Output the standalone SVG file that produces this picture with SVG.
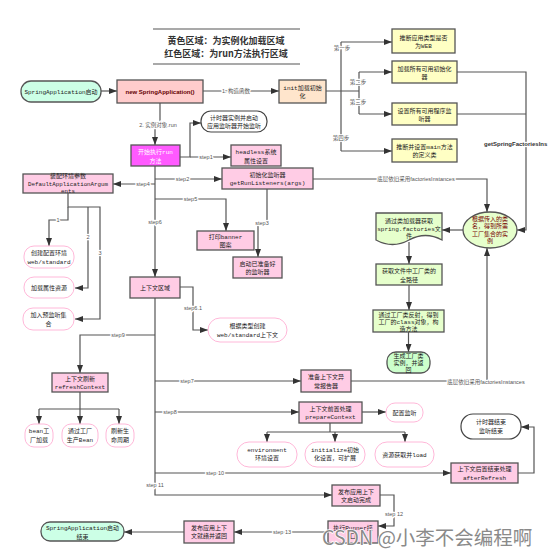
<svg xmlns="http://www.w3.org/2000/svg" width="548" height="557" viewBox="0 0 548 557">
<style>
.bx{stroke:#555;stroke-width:1.3}
.pk{fill:#ffcce5}
.yl{fill:#ffffc4}
.gr{fill:#e6ffcc}
.pl{fill:#fff;stroke:#ffb8d9;stroke-width:1}
.wp{fill:#fff;stroke:#444;stroke-width:1.2}
.t{font-family:"Liberation Mono","Noto Sans CJK SC",monospace;font-size:6px;fill:#222;text-anchor:middle}
.lb{font-family:"Liberation Sans","Noto Sans CJK SC",sans-serif;font-size:5.5px;fill:#555;text-anchor:middle;stroke:#fff;stroke-width:2.5px;paint-order:stroke;stroke-linejoin:round}
.ln{fill:none;stroke:#555;stroke-width:1.2}
.ar{marker-end:url(#ah)}
.ttl{font-family:"Noto Sans CJK SC","Liberation Mono",sans-serif;font-size:9px;font-weight:bold;fill:#333;text-anchor:middle}
</style>
<defs>
<marker id="ah" markerUnits="userSpaceOnUse" markerWidth="8" markerHeight="6" refX="8" refY="3" orient="auto">
<path d="M0,0 L8,3 L0,6 z" fill="#333"/>
</marker>
</defs>
<rect width="548" height="557" fill="#fff"/>

<g id="title">
<line x1="153" y1="29" x2="300" y2="29" stroke="#555" stroke-width="1.2"/>
<line x1="153" y1="64" x2="300" y2="64" stroke="#555" stroke-width="1.2"/>
<text class="ttl" x="226" y="44">黄色区域：为实例化加载区域</text>
<text class="ttl" x="226" y="56.5">红色区域：为run方法执行区域</text>
</g>

<g id="connectors">
<path class="ln ar" d="M101,91 H117"/>
<path class="ln ar" d="M203,91 H279"/>
<path class="ln" d="M326,91 H359"/>
<path class="ln" d="M341,42 V151"/>
<path class="ln ar" d="M341,42 H392"/>
<path class="ln ar" d="M341,151 H392"/>
<path class="ln" d="M359,72 V114"/>
<path class="ln ar" d="M359,72 H392"/>
<path class="ln ar" d="M359,114 H392"/>
<path class="ln ar" d="M457,72 H526 V230 H517"/>
<path class="ln" d="M457,114 H526"/>
<path class="ln ar" d="M313,179 H487 V212"/>
<path class="ln ar" d="M351,381 H487 V248"/>
<path class="ln ar" d="M463,230 H442"/>
<path class="ln ar" d="M409,242 V264"/>
<path class="ln ar" d="M409,285 V310"/>
<path class="ln ar" d="M408.5,332 V352"/>

<path class="ln ar" d="M160,103 V126 H155 V145"/>
<path class="ln ar" d="M180,157 H190 V123 H201"/>
<path class="ln ar" d="M190,157 H231"/>
<path class="ln ar" d="M155,166 V277"/>
<path class="ln ar" d="M155,179 H222"/>
<path class="ln ar" d="M155,184 H113"/>
<path class="ln ar" d="M155,199 H226 V231"/>
<path class="ln ar" d="M267,189 V222 H258 V257"/>
<path class="ln ar" d="M180,287 H193 V330 H208"/>
<path class="ln ar" d="M68,193 V207 H100 V319 H75"/>
<path class="ln ar" d="M68,207 V220 H49 V246"/>
<path class="ln ar" d="M88,207 V288 H75"/>
<path class="ln ar" d="M155,298 V495 H332"/>
<path class="ln ar" d="M155,335 H80 V373"/>
<path class="ln ar" d="M80,392 V424"/>
<path class="ln" d="M39,409 H119"/>
<path class="ln ar" d="M39,409 V424"/>
<path class="ln ar" d="M119,409 V424"/>
<path class="ln ar" d="M155,381 H301"/>
<path class="ln ar" d="M155,412 H299"/>
<path class="ln ar" d="M362,412 H386"/>
<path class="ln" d="M330,423 V432 M267,432 H405"/>
<path class="ln ar" d="M267,432 V442"/>
<path class="ln ar" d="M335,432 V442"/>
<path class="ln ar" d="M405,432 V442"/>
<path class="ln ar" d="M155,473 H451"/>
<path class="ln ar" d="M518,473 H534 V427 H521"/>
<path class="ln ar" d="M380,495 H394 V526 H378"/>
<path class="ln ar" d="M328,532 H234"/>
<path class="ln ar" d="M184,532 H124"/>

<text class="lb" x="236" y="93">1. 构造函数</text>
<text class="lb" x="342" y="50">第一步</text>
<text class="lb" x="358" y="84">第二步</text>
<text class="lb" x="358" y="104">第三步</text>
<text class="lb" x="341" y="140">第四步</text>
<text class="lb" x="484" y="146" style="text-anchor:start;font-weight:bold;font-size:6px;fill:#333">getSpringFactoriesIns</text>
<text class="lb" x="416" y="181">底层依旧采用factoriesInstances</text>
<text class="lb" x="486" y="383.5">底层依旧采用factoriesInstances</text>
<text class="lb" x="158" y="127">2. 实例对象.run</text>
<text class="lb" x="206" y="159">step1</text>
<text class="lb" x="182.5" y="181">step2</text>
<text class="lb" x="143" y="186">step4</text>
<text class="lb" x="190.5" y="201">step5</text>
<text class="lb" x="262" y="225">step3</text>
<text class="lb" x="155" y="224">step6</text>
<text class="lb" x="193" y="310">step6.1</text>
<text class="lb" x="58" y="222">1</text>
<text class="lb" x="88" y="239">2</text>
<text class="lb" x="100" y="255">3</text>
<text class="lb" x="118" y="337">step9</text>
<text class="lb" x="187" y="383">step7</text>
<text class="lb" x="170" y="414">step8</text>
<text class="lb" x="215" y="475">step 10</text>
<text class="lb" x="155" y="487">step 11</text>
<text class="lb" x="394" y="516">step 12</text>
<text class="lb" x="282" y="534">step 13</text>
</g>

<g id="n-start"><rect class="bx" x="21" y="81" width="80" height="21" rx="10" fill="#ccffe6"/><text class="t" x="61" y="94">SpringApplication启动</text></g>
<g id="n-new"><rect class="bx" x="117" y="80" width="86" height="23" fill="#ffcccc"/><text x="160" y="93.5" style="font-family:'Liberation Sans',sans-serif;font-size:6px;font-weight:bold;fill:#600;text-anchor:middle">new SpringApplication()</text></g>
<g id="n-init"><rect class="bx" x="279" y="80" width="47" height="23" fill="#ffe5cc"/><text class="t" x="302.5" y="89.5">init加载初始</text><text class="t" x="302.5" y="98">化</text></g>

<g id="n-web"><rect class="bx yl" x="392" y="29" width="63" height="24"/><text class="t" x="423.5" y="39.5">推断应用类型是否</text><text class="t" x="423.5" y="48">为WEB</text></g>
<g id="n-initializers"><rect class="bx yl" x="392" y="61" width="65" height="22"/><text class="t" x="424.5" y="70.5">加载所有可用初始化</text><text class="t" x="424.5" y="79">器</text></g>
<g id="n-listeners"><rect class="bx yl" x="392" y="103" width="65" height="22"/><text class="t" x="424.5" y="112.5">设置所有可用程序监</text><text class="t" x="424.5" y="121">听器</text></g>
<g id="n-main"><rect class="bx yl" x="392" y="139" width="65" height="23"/><text class="t" x="424.5" y="148.5">推断并设置main方法</text><text class="t" x="424.5" y="157">的定义类</text></g>

<g id="n-ellipse"><ellipse class="bx gr" cx="490" cy="230" rx="27" ry="18"/>
<text class="t" x="490" y="220.5" style="fill:#700">根据传入的类</text>
<text class="t" x="490" y="228" style="fill:#700">名，得到所需</text>
<text class="t" x="490" y="235.5" style="fill:#700">工厂集合的实</text>
<text class="t" x="490" y="243" style="fill:#700">例</text></g>
<g id="n-doc"><path class="bx gr" d="M376,213 H442 V240 C431,234 420,234 409,240 C398,246 387,246 376,240 Z"/><text class="t" x="409" y="223">通过类加载器获取</text><text class="t" x="409" y="230.5">spring.factories文</text><text class="t" x="409" y="238">件</text></g>
<g id="n-path"><rect class="bx gr" x="376" y="264" width="66" height="21"/><text class="t" x="409" y="273">获取文件中工厂类的</text><text class="t" x="409" y="281.5">全路径</text></g>
<g id="n-reflect"><rect class="bx gr" x="373" y="310" width="71" height="22"/><text class="t" x="408.5" y="316.5">通过工厂类反射，得到</text><text class="t" x="408.5" y="323.5">工厂的class对象，构</text><text class="t" x="408.5" y="330.5">造方法</text></g>
<g id="n-instance"><rect class="bx" x="387" y="352" width="43" height="21" rx="9" fill="#ccffcc"/><text class="t" x="408.5" y="358">生成工厂类</text><text class="t" x="408.5" y="365">实例，并返</text><text class="t" x="408.5" y="372">回</text></g>

<g id="n-run"><rect class="bx" x="131" y="145" width="49" height="21" fill="#ff5aff"/><text class="t" x="155.5" y="154" style="fill:#fff">开始执行run</text><text class="t" x="155.5" y="162.5" style="fill:#fff">方法</text></g>
<g id="n-timer"><rect class="wp" x="201" y="111" width="66" height="21" rx="10"/><text class="t" x="234" y="120">计时器实例并启动</text><text class="t" x="234" y="128">应用监听器开始监听</text></g>
<g id="n-headless"><rect class="bx pk" x="231" y="145" width="50" height="21"/><text class="t" x="256" y="154">headless系统</text><text class="t" x="256" y="162.5">属性设置</text></g>
<g id="n-getrun"><rect class="bx pk" x="222" y="168" width="91" height="21"/><text class="t" x="267.5" y="176.5">初始化监听器</text><text class="t" x="267.5" y="185">getRunListeners(args)</text></g>
<g id="n-args"><rect class="bx pk" x="23" y="174" width="90" height="19"/><text class="t" x="68" y="178">装配环境参数</text><text class="t" x="68" y="185.5" style="font-size:5.8px">DefaultApplicationArgum</text><text class="t" x="68" y="192.5" style="font-size:5.8px">ents</text></g>
<g id="n-banner"><rect class="bx pk" x="197" y="231" width="57" height="19"/><text class="t" x="225.5" y="239">打印banner</text><text class="t" x="225.5" y="247">图案</text></g>
<g id="n-startlisteners"><rect class="bx pk" x="233" y="257" width="49" height="21"/><text class="t" x="257.5" y="265.5">启动已准备好</text><text class="t" x="257.5" y="274">的监听器</text></g>
<g id="n-env1"><rect class="pl" x="24" y="246" width="50" height="22" rx="10"/><text class="t" x="49" y="255">创建配置环境</text><text class="t" x="49" y="263.5">web/standard</text></g>
<g id="n-env2"><rect class="pl" x="24" y="277" width="50" height="21" rx="10"/><text class="t" x="49" y="290">加载属性资源</text></g>
<g id="n-env3"><rect class="pl" x="23" y="308" width="51" height="22" rx="10"/><text class="t" x="48.5" y="317">加入预监听集</text><text class="t" x="48.5" y="326">合</text></g>
<g id="n-context"><rect class="bx pk" x="130" y="277" width="50" height="21"/><text class="t" x="155" y="290">上下文区域</text></g>
<g id="n-create"><rect class="pl" x="208" y="318" width="79" height="24" rx="12"/><text class="t" x="247.5" y="328">根据类型创建</text><text class="t" x="247.5" y="336.5">web/standard上下文</text></g>
<g id="n-refresh"><rect class="bx pk" x="52" y="373" width="56" height="19"/><text class="t" x="80" y="381">上下文刷新</text><text class="t" x="80" y="389">refreshContext</text></g>
<g id="n-bean"><rect class="pl" x="25" y="424" width="28" height="23" rx="9"/><text class="t" x="39" y="433">bean工</text><text class="t" x="39" y="441.5">厂加载</text></g>
<g id="n-produce"><rect class="pl" x="62" y="424" width="36" height="23" rx="9"/><text class="t" x="80" y="433">通过工厂</text><text class="t" x="80" y="441.5">生产Bean</text></g>
<g id="n-lifecycle"><rect class="pl" x="106" y="424" width="28" height="23" rx="9"/><text class="t" x="120" y="433">刷新生</text><text class="t" x="120" y="441.5">命周期</text></g>
<g id="n-reporter"><rect class="bx pk" x="301" y="370" width="50" height="22"/><text class="t" x="326" y="379">准备上下文异</text><text class="t" x="326" y="387.5">常报告器</text></g>
<g id="n-prepare"><rect class="bx pk" x="299" y="402" width="63" height="21"/><text class="t" x="330.5" y="410.5">上下文前置处理</text><text class="t" x="330.5" y="419">prepareContext</text></g>
<g id="n-cfglisten"><rect class="pl" x="386" y="403" width="37" height="19" rx="9"/><text class="t" x="404.5" y="415">配置监听</text></g>
<g id="n-environment"><rect class="pl" x="237" y="442" width="60" height="25" rx="12"/><text class="t" x="267" y="451.5">environment</text><text class="t" x="267" y="460">环境设置</text></g>
<g id="n-initialize"><rect class="pl" x="305" y="442" width="60" height="25" rx="12"/><text class="t" x="335" y="451.5">initialize初始</text><text class="t" x="335" y="460">化设置，可扩展</text></g>
<g id="n-load"><rect class="pl" x="375" y="442" width="59" height="25" rx="12"/><text class="t" x="404.5" y="457">资源获取并load</text></g>
<g id="n-after"><rect class="bx pk" x="451" y="463" width="67" height="20"/><text class="t" x="484.5" y="471">上下文后置结束处理</text><text class="t" x="484.5" y="479.5">afterRefresh</text></g>
<g id="n-timerend"><rect class="wp" x="461" y="414" width="60" height="25" rx="12"/><text class="t" x="491" y="424">计时器结束</text><text class="t" x="491" y="432.5">监听结束</text></g>
<g id="n-started"><rect class="bx pk" x="332" y="485" width="48" height="21"/><text class="t" x="356" y="493.5">发布应用上下</text><text class="t" x="356" y="502">文启动完成</text></g>
<g id="n-runner"><rect class="bx pk" x="328" y="521" width="50" height="22"/><text class="t" x="353" y="529.5">执行Runner接</text><text class="t" x="353" y="538">口</text></g>
<g id="n-ready"><rect class="bx pk" x="184" y="521" width="50" height="22"/><text class="t" x="209" y="529.5">发布应用上下</text><text class="t" x="209" y="538">文就绪并返回</text></g>
<g id="n-end"><rect class="bx" x="41" y="522" width="83" height="19" rx="9" fill="#ccffe6"/><text class="t" x="82.5" y="530">SpringApplication启动</text><text class="t" x="82.5" y="538.5">结束</text></g>

<text x="322" y="545" style="font-family:'Noto Sans CJK SC','Noto Sans',sans-serif;font-size:19.5px;fill:#8a8a8a;stroke:#fff;stroke-width:1.5px;paint-order:stroke">CSDN @小李不会编程啊</text>
</svg>
